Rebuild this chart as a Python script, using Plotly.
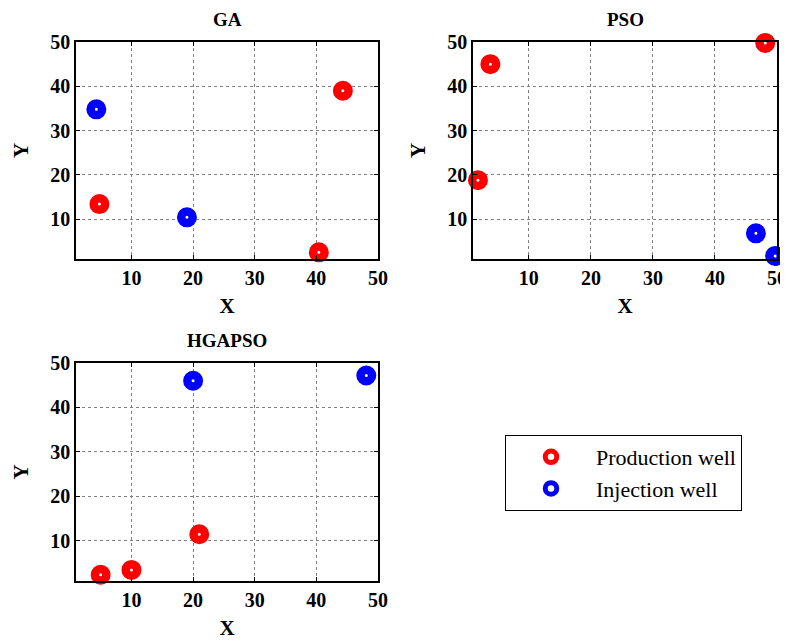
import plotly.graph_objects as go

# ---- data ----
ga_prod_x = [4.8, 40.4, 44.3]
ga_prod_y = [13.4, 2.5, 39.0]
ga_inj_x = [4.3, 19.0]
ga_inj_y = [34.8, 10.4]

pso_prod_x = [1.8, 3.8, 48.1]
pso_prod_y = [18.8, 45.0, 49.8]
pso_inj_x = [46.6, 49.7]
pso_inj_y = [6.8, 1.7]

hg_prod_x = [5.0, 10.0, 21.0]
hg_prod_y = [2.4, 3.5, 11.5]
hg_inj_x = [20.0, 48.1]
hg_inj_y = [46.0, 47.2]

titles = ["GA", "PSO", "HGAPSO"]
tick_vals = [10, 20, 30, 40, 50]
legend_names = ["Production well", "Injection well"]

SERIF = "Liberation Serif"
RED = "#ff0000"
BLUE = "#0000ff"

fig = go.Figure()

panels = [
    ("x", "y", ga_prod_x, ga_prod_y, ga_inj_x, ga_inj_y),
    ("x2", "y2", pso_prod_x, pso_prod_y, pso_inj_x, pso_inj_y),
    ("x3", "y3", hg_prod_x, hg_prod_y, hg_inj_x, hg_inj_y),
]

for i, (xa, ya, px, py, ix, iy) in enumerate(panels):
    for xs, ys, col, name in [(px, py, RED, legend_names[0]), (ix, iy, BLUE, legend_names[1])]:
        fig.add_trace(go.Scatter(
            x=xs, y=ys, mode="markers", xaxis=xa, yaxis=ya,
            name=name, legendgroup=name, showlegend=(i == 0), cliponaxis=False,
            marker=dict(symbol="circle", size=11.5, color="white",
                        line=dict(color=col, width=8.5)),
        ))

# page body has an 8px margin; figure is placed at (8, 8) in the window
OFF = 8
W, H = 780, 635
def px2x(p):
    return (p - OFF) / W
def py2y(p):
    return 1 - (p - OFF) / H

xdoms = [(76, 378), (473, 777), (76, 378)]
ydoms = [(42, 259), (42, 259), (363, 581)]

axis_common = dict(
    range=[1, 50], tickvals=tick_vals, showgrid=True, gridcolor="#808080",
    griddash="dot", gridwidth=1, zeroline=False, showline=True, linecolor="black",
    linewidth=1.5, mirror="ticks", ticks="inside", ticklen=4, tickcolor="black",
    automargin=False,
    tickfont=dict(family=SERIF, size=20, color="black", weight="bold"),
)

layout = dict(
    width=W, height=H, margin=dict(l=0, r=0, t=0, b=0, autoexpand=False),
    paper_bgcolor="white", plot_bgcolor="white", showlegend=True,
    legend=dict(x=px2x(505), y=py2y(435), xanchor="left", yanchor="top",
                bordercolor="black", borderwidth=1, bgcolor="white",
                font=dict(family=SERIF, size=22, color="black"),
                itemwidth=80, tracegroupgap=0),
)
annotations = []
for i in range(3):
    sfx = "" if i == 0 else str(i + 1)
    xd = xdoms[i]
    yd = ydoms[i]
    layout["xaxis" + sfx] = dict(axis_common, domain=[px2x(xd[0]), px2x(xd[1])],
                                 anchor="y" + sfx,
                                 title=dict(text="X", standoff=11,
                                            font=dict(family=SERIF, size=21, color="black", weight="bold")))
    layout["yaxis" + sfx] = dict(axis_common, domain=[py2y(yd[1]), py2y(yd[0])],
                                 anchor="x" + sfx,
                                 title=dict(text="Y", standoff=16,
                                            font=dict(family=SERIF, size=21, color="black", weight="bold")))
    annotations.append(dict(
        text="<b>%s</b>" % titles[i], xref="paper", yref="paper",
        x=px2x((xd[0] + xd[1]) / 2), y=py2y(yd[0] - 10), xanchor="center", yanchor="bottom",
        showarrow=False, font=dict(family=SERIF, size=19, color="black"),
    ))
layout["annotations"] = annotations
fig.update_layout(**layout)

fig.write_html("out.html")
